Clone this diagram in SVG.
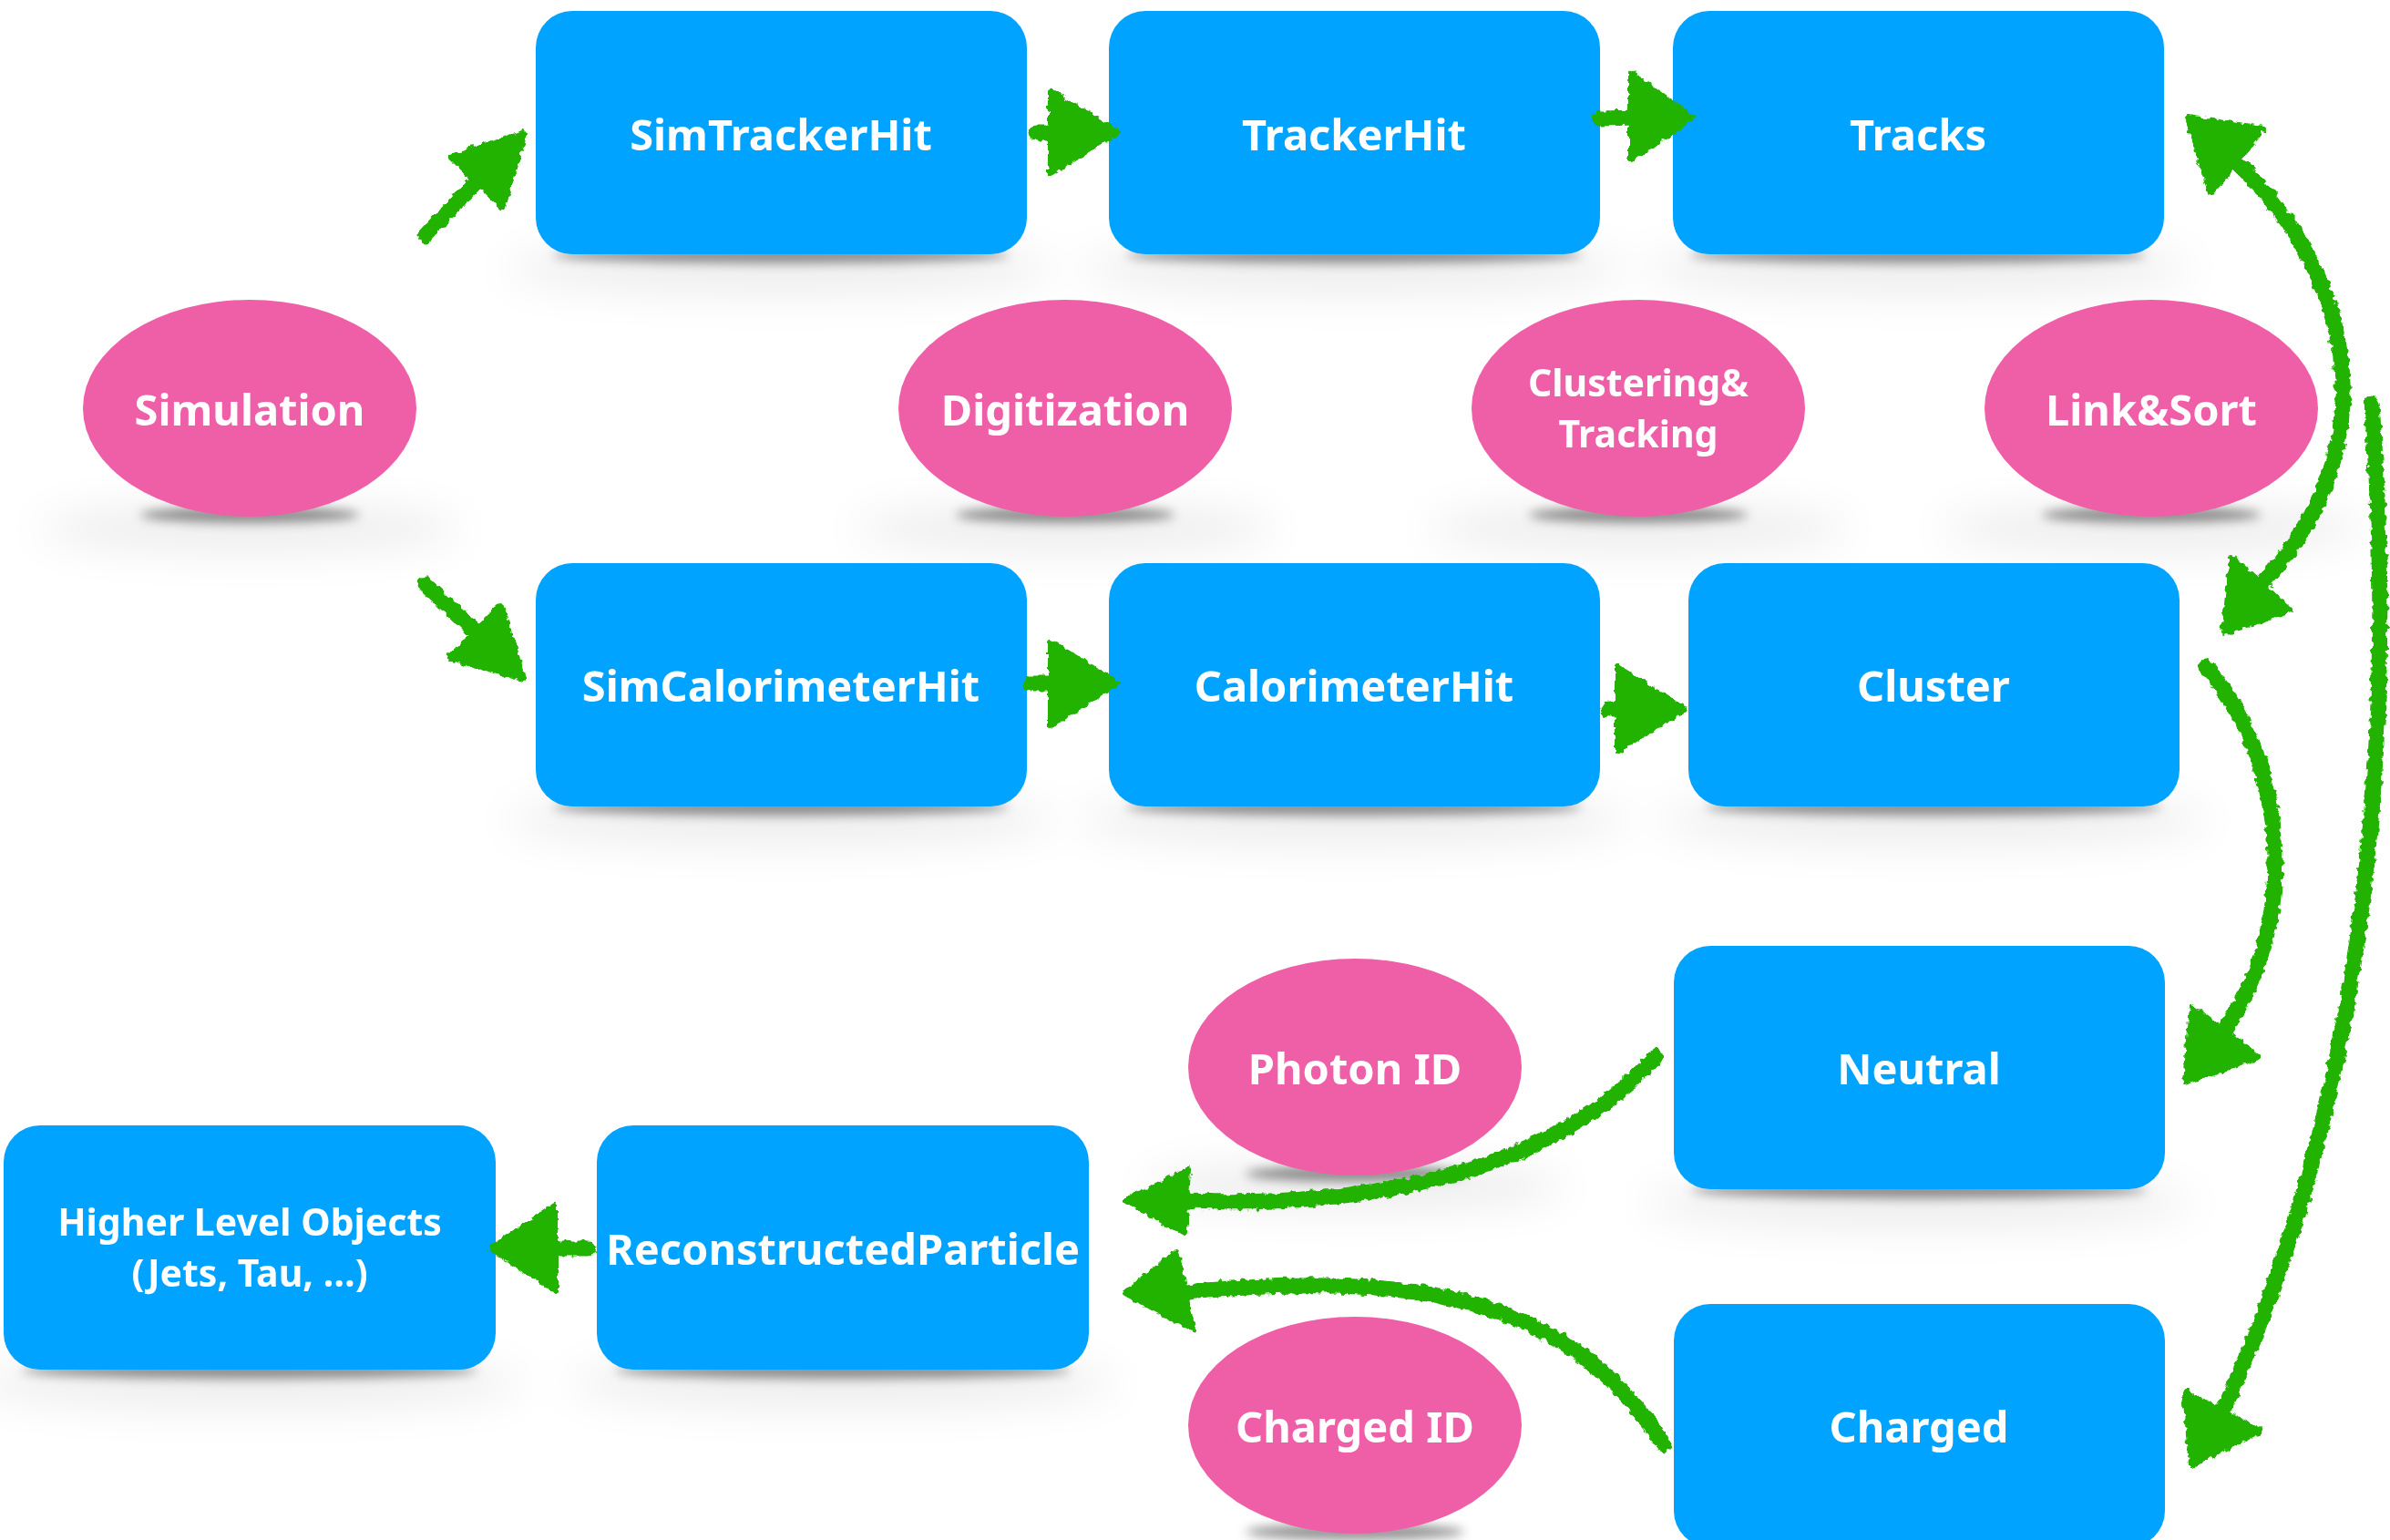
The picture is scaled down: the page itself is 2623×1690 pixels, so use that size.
<svg xmlns="http://www.w3.org/2000/svg" width="2623" height="1690" viewBox="0 0 2623 1690">
  <style>
    .box { fill: #00a3ff; }
    .proc { fill: #ef5fa7; }
    .lbl { font-family: "Noto Sans", "Liberation Sans", sans-serif; font-weight: bold; font-size: 47px; fill: #ffffff; text-anchor: middle; }
    .two { font-size: 41px; }
    .shaft { fill: none; stroke: #22b300; stroke-width: 17; stroke-linecap: round; }
    .head { fill: #22b300; stroke: #22b300; stroke-width: 6; stroke-linejoin: round; }
    .sh { fill: #000; opacity: 0.42; }
    .haze { fill: #000; opacity: 0.07; }
  </style>
  <defs>
    <filter id="crayon" filterUnits="userSpaceOnUse" x="0" y="0" width="2623" height="1690">
      <feTurbulence type="fractalNoise" baseFrequency="0.14" numOctaves="2" seed="5" result="noise"/>
      <feDisplacementMap in="SourceGraphic" in2="noise" scale="8" xChannelSelector="R" yChannelSelector="G"/>
    </filter>
    <filter id="blurS" filterUnits="userSpaceOnUse" x="0" y="0" width="2623" height="1690">
      <feGaussianBlur stdDeviation="6"/>
    </filter>
    <filter id="blurL" filterUnits="userSpaceOnUse" x="0" y="0" width="2623" height="1690">
      <feGaussianBlur stdDeviation="22"/>
    </filter>
  </defs>

  <rect width="2623" height="1690" fill="#ffffff"/>

  <!-- soft shadows under the nodes -->
  <g id="shadows">
    <g filter="url(#blurL)">
      <ellipse class="haze" cx="857" cy="295" rx="300" ry="28"/>
      <ellipse class="haze" cx="1486" cy="295" rx="300" ry="28"/>
      <ellipse class="haze" cx="2105" cy="295" rx="300" ry="28"/>
      <ellipse class="haze" cx="857" cy="900" rx="300" ry="28"/>
      <ellipse class="haze" cx="1486" cy="900" rx="300" ry="28"/>
      <ellipse class="haze" cx="2122" cy="900" rx="300" ry="28"/>
      <ellipse class="haze" cx="2106" cy="1320" rx="300" ry="28"/>
      <ellipse class="haze" cx="274" cy="1518" rx="300" ry="28"/>
      <ellipse class="haze" cx="925" cy="1518" rx="300" ry="28"/>
      <ellipse class="haze" cx="274" cy="580" rx="230" ry="26"/>
      <ellipse class="haze" cx="1169" cy="580" rx="230" ry="26"/>
      <ellipse class="haze" cx="1798" cy="580" rx="230" ry="26"/>
      <ellipse class="haze" cx="2361" cy="580" rx="230" ry="26"/>
      <ellipse class="haze" cx="1487" cy="1302" rx="230" ry="26"/>
    </g>
    <g filter="url(#blurS)">
      <ellipse class="sh" cx="857" cy="280" rx="250" ry="9"/>
      <ellipse class="sh" cx="1486" cy="280" rx="250" ry="9"/>
      <ellipse class="sh" cx="2105" cy="280" rx="250" ry="9"/>
      <ellipse class="sh" cx="857" cy="886" rx="250" ry="9"/>
      <ellipse class="sh" cx="1486" cy="886" rx="250" ry="9"/>
      <ellipse class="sh" cx="2122" cy="886" rx="250" ry="9"/>
      <ellipse class="sh" cx="2106" cy="1306" rx="250" ry="9"/>
      <ellipse class="sh" cx="274" cy="1504" rx="250" ry="9"/>
      <ellipse class="sh" cx="925" cy="1504" rx="250" ry="9"/>
      <ellipse class="sh" cx="274" cy="565" rx="120" ry="9"/>
      <ellipse class="sh" cx="1169" cy="565" rx="120" ry="9"/>
      <ellipse class="sh" cx="1798" cy="565" rx="120" ry="9"/>
      <ellipse class="sh" cx="2361" cy="565" rx="120" ry="9"/>
      <ellipse class="sh" cx="1487" cy="1288" rx="120" ry="9"/>
      <ellipse class="sh" cx="1487" cy="1681" rx="120" ry="9"/>
    </g>
  </g>

  <!-- data collections -->
  <g id="SimTrackerHit">
    <rect class="box" x="588" y="12" width="539" height="267" rx="40"/>
    <text class="lbl" x="857" y="165">SimTrackerHit</text>
  </g>
  <g id="TrackerHit">
    <rect class="box" x="1217" y="12" width="539" height="267" rx="40"/>
    <text class="lbl" x="1486" y="165">TrackerHit</text>
  </g>
  <g id="Tracks">
    <rect class="box" x="1836" y="12" width="539" height="267" rx="40"/>
    <text class="lbl" x="2105" y="165">Tracks</text>
  </g>
  <g id="SimCalorimeterHit">
    <rect class="box" x="588" y="618" width="539" height="267" rx="40"/>
    <text class="lbl" x="857" y="770">SimCalorimeterHit</text>
  </g>
  <g id="CalorimeterHit">
    <rect class="box" x="1217" y="618" width="539" height="267" rx="40"/>
    <text class="lbl" x="1486" y="770">CalorimeterHit</text>
  </g>
  <g id="Cluster">
    <rect class="box" x="1853" y="618" width="539" height="267" rx="40"/>
    <text class="lbl" x="2122" y="770">Cluster</text>
  </g>
  <g id="Neutral">
    <rect class="box" x="1837" y="1038" width="539" height="267" rx="40"/>
    <text class="lbl" x="2106" y="1190">Neutral</text>
  </g>
  <g id="Charged">
    <rect class="box" x="1837" y="1431" width="539" height="267" rx="40"/>
    <text class="lbl" x="2106" y="1583">Charged</text>
  </g>
  <g id="HigherLevelObjects">
    <rect class="box" x="4" y="1235" width="540" height="268" rx="40"/>
    <text class="lbl two" x="274" y="1356">Higher Level Objects<tspan x="274" dy="56">(Jets, Tau, …)</tspan></text>
  </g>
  <g id="ReconstructedParticle">
    <rect class="box" x="655" y="1235" width="540" height="268" rx="40"/>
    <text class="lbl" x="925" y="1388">ReconstructedParticle</text>
  </g>

  <!-- processing steps -->
  <g id="Simulation">
    <ellipse class="proc" cx="274" cy="448" rx="183" ry="119"/>
    <text class="lbl" x="274" y="467">Simulation</text>
  </g>
  <g id="Digitization">
    <ellipse class="proc" cx="1169" cy="448" rx="183" ry="119"/>
    <text class="lbl" x="1169" y="467">Digitization</text>
  </g>
  <g id="ClusteringTracking">
    <ellipse class="proc" cx="1798" cy="448" rx="183" ry="119"/>
    <text class="lbl two" x="1798" y="435">Clustering&amp;<tspan x="1798" dy="56">Tracking</tspan></text>
  </g>
  <g id="LinkSort">
    <ellipse class="proc" cx="2361" cy="448" rx="183" ry="119"/>
    <text class="lbl" x="2361" y="467">Link&amp;Sort</text>
  </g>
  <g id="PhotonID">
    <ellipse class="proc" cx="1487" cy="1171" rx="183" ry="119"/>
    <text class="lbl" x="1487" y="1190">Photon ID</text>
  </g>
  <g id="ChargedID">
    <ellipse class="proc" cx="1487" cy="1564" rx="183" ry="119"/>
    <text class="lbl" x="1487" y="1583">Charged ID</text>
  </g>

  <!-- crayon-style connectors -->
  <g id="connectors" filter="url(#crayon)">
    <!-- Simulation -> SimTrackerHit -->
    <path class="shaft" d="M 467 258 L 528 194"/>
    <polygon class="head" points="575,146 552,228 494,172"/>
    <!-- Simulation -> SimCalorimeterHit -->
    <path class="shaft" d="M 467 641 L 526 697"/>
    <polygon class="head" points="575,745 549,664 493,722"/>
    <!-- SimTrackerHit -> TrackerHit -->
    <path class="shaft" d="M 1138 146 L 1165 146"/>
    <polygon class="head" points="1226,145 1153,100 1153,190"/>
    <!-- TrackerHit -> Tracks -->
    <path class="shaft" d="M 1756 130 L 1798 129"/>
    <polygon class="head" points="1858,129 1790,80 1790,175"/>
    <!-- SimCalorimeterHit -> CalorimeterHit -->
    <path class="shaft" d="M 1132 750 L 1165 750"/>
    <polygon class="head" points="1226,749 1153,705 1153,796"/>
    <!-- CalorimeterHit -> Cluster -->
    <path class="shaft" d="M 1765 778 L 1785 778"/>
    <polygon class="head" points="1848,778 1775,732 1775,824"/>
    <!-- Tracks <-> Cluster -->
    <path class="shaft" d="M 2452 176 C 2575 290, 2630 480, 2483 640"/>
    <polygon class="head" points="2401,129 2484,141 2426,212"/>
    <polygon class="head" points="2440,695 2450,612 2513,669"/>
    <!-- Cluster -> Neutral -->
    <path class="shaft" d="M 2421 732 C 2505 830, 2530 1000, 2441 1132"/>
    <polygon class="head" points="2398,1188 2405,1105 2478,1160"/>
    <!-- Link&Sort -> Charged -->
    <path class="shaft" d="M 2603 443 C 2630 800, 2600 1200, 2439 1550"/>
    <polygon class="head" points="2405,1608 2398,1528 2480,1570"/>
    <!-- Neutral -> ReconstructedParticle -->
    <path class="shaft" d="M 1817 1159 C 1700 1290, 1500 1325, 1302 1318"/>
    <polygon class="head" points="1236,1318 1304,1283 1300,1353"/>
    <!-- Charged -> ReconstructedParticle -->
    <path class="shaft" d="M 1826 1585 C 1720 1420, 1550 1395, 1302 1418"/>
    <polygon class="head" points="1234,1419 1291,1374 1309,1459"/>
    <!-- ReconstructedParticle -> Higher Level Objects -->
    <path class="shaft" d="M 646 1370 L 605 1370"/>
    <polygon class="head" points="539,1370 609,1323 609,1416"/>
  </g>
</svg>
